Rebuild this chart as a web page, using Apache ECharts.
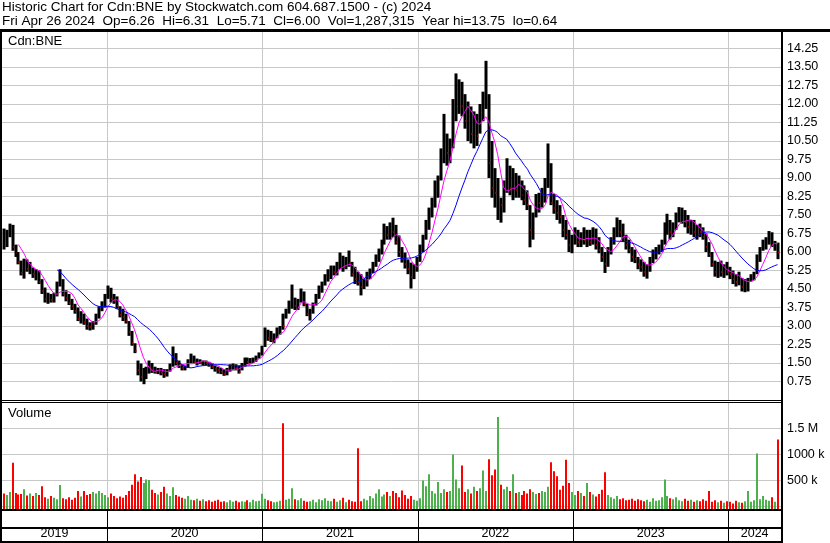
<!DOCTYPE html>
<html>
<head>
<meta charset="utf-8">
<script src="https://cdn.jsdelivr.net/npm/echarts@6/dist/echarts.min.js"></script>
<style>
html, body { margin: 0; padding: 0; background: #fff; }
#chart { width: 830px; height: 543px; }
</style>
</head>
<body>
<div id="chart"></div>
<script>
// weekly bars, the last one is the week ending Fri Apr 26 2024
const lastDay = Date.UTC(2024, 3, 26);

const high = [
  6.95, 6.9, 7.15, 7.1, 6.3, 6.0, 5.65, 5.73, 5.7, 5.6,
  5.37, 5.3, 5.25, 4.9, 4.56, 4.35, 4.3, 4.35, 4.8, 5.3,
  4.9, 4.45, 4.3, 4.1, 3.9, 3.75, 3.6, 3.5, 3.3, 3.15,
  3.2, 3.5, 3.8, 4.0, 4.3, 4.64, 4.55, 4.3, 4.2, 3.8,
  3.7, 3.5, 3.2, 2.8, 2.3, 1.6, 1.48, 1.3, 1.35, 1.6,
  1.5, 1.35, 1.3, 1.3, 1.25, 1.25, 1.48, 2.17, 1.9, 1.6,
  1.45, 1.4, 1.65, 1.88, 1.8, 1.68, 1.65, 1.6, 1.6, 1.55,
  1.5, 1.4, 1.35, 1.3, 1.25, 1.3, 1.45, 1.48, 1.45, 1.4,
  1.5, 1.72, 1.72, 1.7, 1.72, 1.8, 1.93, 2.2, 2.94, 2.85,
  2.8, 2.7, 2.94, 3.0, 3.5, 3.7, 4.03, 4.68, 4.15, 4.1,
  4.52, 4.4, 3.9, 3.7, 3.95, 4.3, 4.64, 4.8, 5.1, 5.3,
  5.45, 5.45, 5.6, 5.98, 5.85, 5.8, 6.06, 5.6, 5.4, 5.2,
  5.1, 4.9, 5.2, 5.33, 5.6, 5.9, 6.14, 6.5, 7.15, 7.05,
  7.2, 7.39, 7.1, 6.67, 6.2, 5.98, 5.7, 5.57, 5.5, 5.8,
  6.3, 6.7, 7.3, 7.8, 8.2, 8.9, 9.1, 10.2, 11.6, 10.8,
  10.6, 12.2, 13.24, 13.0, 12.9, 12.4, 12.1, 11.9, 11.7, 11.6,
  12.0, 12.5, 13.75, 12.4, 10.5, 9.4, 9.0, 8.2, 8.9, 9.8,
  9.5, 9.4, 9.2, 9.1, 8.9, 8.7, 8.5, 7.9, 7.6, 8.35,
  8.4, 8.6, 9.0, 10.4, 9.6, 8.35, 8.1, 7.9, 7.5, 7.3,
  6.9, 6.7, 7.0, 6.9, 6.8, 7.0, 6.9, 6.9, 7.0, 6.95,
  6.6, 6.2, 6.0, 6.2, 6.6, 7.0, 7.4, 7.3, 7.15, 6.7,
  6.5, 6.2, 6.1, 5.8, 5.7, 5.6, 5.5, 5.8, 6.1, 6.2,
  6.3, 6.5, 7.2, 7.55, 7.3, 7.2, 7.6, 7.82, 7.8, 7.7,
  7.5, 7.3, 7.3, 7.1, 7.15, 7.0, 6.75, 6.4, 6.0, 5.65,
  5.6, 5.65, 5.5, 5.6, 5.4, 5.25, 5.1, 5.2, 4.95, 4.9,
  4.95, 5.1, 5.2, 5.9, 6.2, 6.5, 6.6, 6.85, 6.8, 6.45, 6.38
];
const low = [
  6.1, 6.2, 6.6, 6.05, 5.8, 5.5, 5.05, 4.92, 5.2, 5.1,
  4.95, 4.85, 4.7, 4.3, 3.95, 3.9, 3.95, 3.95, 4.2, 4.6,
  4.2, 4.0, 3.85, 3.65, 3.5, 3.2, 3.1, 3.05, 2.85, 2.82,
  2.85, 3.05, 3.3, 3.6, 3.75, 4.1, 3.95, 3.9, 3.7, 3.35,
  3.2, 3.1, 2.6, 2.2, 1.9, 1.0, 0.75, 0.64, 0.85, 1.07,
  1.1, 1.07, 1.05, 1.0, 0.9, 0.95, 1.15, 1.35, 1.4, 1.3,
  1.2, 1.2, 1.3, 1.5, 1.5, 1.4, 1.45, 1.4, 1.42, 1.35,
  1.25, 1.15, 1.07, 1.05, 0.98, 1.0, 1.15, 1.2, 1.2, 1.07,
  1.2, 1.35, 1.45, 1.48, 1.5, 1.55, 1.68, 1.8, 2.15, 2.4,
  2.35, 2.3, 2.5, 2.65, 2.85, 3.3, 3.5, 3.7, 3.65, 3.65,
  3.95, 3.8, 3.4, 3.22, 3.5, 3.83, 4.1, 4.35, 4.64, 4.8,
  4.9, 5.05, 5.05, 5.3, 5.2, 5.3, 5.4, 5.0, 4.7, 4.64,
  4.24, 4.5, 4.6, 4.9, 5.15, 5.4, 5.6, 5.9, 6.3, 6.5,
  6.5, 6.6, 6.3, 5.8, 5.57, 5.33, 5.1, 4.52, 4.9, 5.2,
  5.6, 6.0, 6.5, 6.9, 7.4, 7.8, 8.2, 8.9, 9.6, 9.5,
  9.6, 10.2, 11.3, 11.6, 11.5, 11.0, 10.5, 10.4, 10.2, 10.3,
  10.8, 11.3, 11.8, 9.0, 8.2, 7.8, 7.3, 7.19, 7.6, 8.4,
  8.3, 8.1, 8.2, 8.2, 8.1, 7.9, 7.7, 6.19, 6.5, 7.4,
  7.6, 7.8, 8.0, 8.6, 7.9, 7.55, 7.3, 7.15, 6.6, 6.5,
  6.0, 5.95, 6.3, 6.2, 6.2, 6.3, 6.2, 6.25, 6.3, 6.1,
  5.95, 5.6, 5.15, 5.4, 5.9, 6.3, 6.6, 6.6, 6.4, 6.1,
  5.95, 5.6, 5.55, 5.3, 5.2, 5.0, 4.92, 5.2, 5.55, 5.7,
  5.9, 6.0, 6.3, 6.7, 6.5, 6.6, 6.9, 7.2, 7.15, 7.0,
  6.75, 6.7, 6.6, 6.5, 6.6, 6.5, 6.0, 5.8, 5.4, 5.0,
  4.95, 5.0, 4.95, 5.05, 4.9, 4.7, 4.6, 4.65, 4.4, 4.37,
  4.4, 4.8, 4.85, 5.1, 5.6, 6.05, 6.1, 6.3, 6.2, 6.05, 5.71
];
const close = [
  6.3, 6.75, 7.0, 6.2, 5.95, 5.6, 5.15, 5.55, 5.3, 5.45,
  5.1, 5.2, 4.8, 4.4, 4.1, 4.2, 4.05, 4.3, 4.7, 4.9,
  4.3, 4.15, 3.95, 3.8, 3.6, 3.3, 3.45, 3.15, 3.0, 2.95,
  3.1, 3.4, 3.7, 3.85, 4.2, 4.4, 4.1, 4.05, 3.8, 3.45,
  3.35, 3.2, 2.75, 2.3, 2.0, 1.2, 0.95, 1.1, 1.25, 1.35,
  1.2, 1.15, 1.2, 1.1, 1.05, 1.2, 1.4, 1.8, 1.5, 1.4,
  1.3, 1.3, 1.6, 1.7, 1.55, 1.6, 1.5, 1.55, 1.5, 1.45,
  1.35, 1.25, 1.2, 1.15, 1.05, 1.25, 1.35, 1.4, 1.3, 1.15,
  1.45, 1.65, 1.55, 1.6, 1.65, 1.75, 1.85, 2.15, 2.7, 2.5,
  2.45, 2.6, 2.8, 3.1, 3.0, 3.6, 3.9, 4.0, 3.8, 4.0,
  4.3, 3.9, 3.5, 3.6, 3.85, 4.2, 4.45, 4.7, 5.0, 5.15,
  5.3, 5.2, 5.5, 5.7, 5.4, 5.6, 5.55, 5.1, 4.9, 4.8,
  4.6, 4.75, 5.05, 5.2, 5.5, 5.8, 6.0, 6.4, 6.9, 6.7,
  7.0, 6.8, 6.4, 6.0, 5.7, 5.5, 5.3, 5.0, 5.4, 5.6,
  6.1, 6.55, 7.1, 7.5, 8.0, 8.6, 9.0, 9.9, 10.4, 10.0,
  10.3, 11.8, 12.3, 12.6, 11.9, 11.3, 11.5, 10.8, 11.2, 10.7,
  11.6, 12.2, 12.4, 9.6, 8.6, 8.4, 8.5, 7.9, 8.6, 9.0,
  8.6, 8.9, 8.5, 8.8, 8.3, 8.1, 7.9, 6.9, 7.4, 8.1,
  8.0, 8.3, 8.8, 9.3, 8.0, 7.8, 7.6, 7.4, 6.9, 6.7,
  6.3, 6.5, 6.6, 6.4, 6.7, 6.5, 6.6, 6.4, 6.8, 6.3,
  6.1, 5.8, 5.5, 6.0, 6.4, 6.8, 7.0, 6.8, 6.6, 6.3,
  6.1, 5.8, 5.7, 5.5, 5.4, 5.2, 5.3, 5.7, 5.9, 6.0,
  6.2, 6.3, 7.0, 7.1, 6.8, 7.0, 7.4, 7.5, 7.6, 7.2,
  7.0, 7.1, 6.8, 6.9, 6.8, 6.6, 6.2, 5.9, 5.5, 5.2,
  5.3, 5.2, 5.3, 5.2, 5.1, 4.9, 4.8, 5.0, 4.6, 4.7,
  4.8, 4.95, 5.1, 5.7, 6.1, 6.3, 6.4, 6.7, 6.3, 6.3, 6.0
];
// volume, thousands of shares
const volume = [
  250, 220, 280, 840, 260, 230, 240, 330, 210, 250,
  200, 260, 220, 390, 180, 150, 200, 170, 140, 415,
  160, 140, 180, 130, 170, 300, 190, 300, 220, 240,
  280, 250, 300, 260, 220, 180, 250, 200, 160, 190,
  170, 220, 300, 420, 620, 480, 565, 450, 520, 510,
  320, 260, 230, 280, 380, 250, 200, 370, 220, 190,
  170, 150, 200, 130, 120, 150, 110, 140, 100, 120,
  90, 110, 130, 90, 100, 80, 120, 90, 110, 80,
  100, 90, 120, 80, 130, 100, 110, 245, 150, 120,
  100, 80, 90, 110, 1600, 130, 150, 350, 140, 120,
  160, 110, 90, 100, 130, 80, 140, 120, 160, 110,
  100, 150, 90, 120, 170, 80, 130, 100, 90, 1120,
  100, 150, 120, 200, 160, 250, 330, 190, 230, 280,
  200, 300, 260, 180, 310, 220, 150, 200, 130, 110,
  160, 500, 390, 620, 300, 250, 470, 260, 330, 280,
  300, 1000, 520, 350, 790, 280, 330, 250, 380, 300,
  350, 690, 300, 910, 600, 710, 1720, 420, 330, 380,
  300, 620, 260, 280, 220, 300, 250, 330, 280, 240,
  260, 300, 280, 380, 850, 680, 580, 320, 400, 900,
  450, 280, 220, 300, 260, 200, 450, 280, 230, 190,
  240, 320, 660, 220, 180, 150, 200, 140, 160, 120,
  130, 150, 110, 140, 120, 100, 130, 90, 160, 110,
  120, 180, 520, 200, 160, 140, 180, 120, 100, 150,
  110, 130, 90, 120, 100, 140, 110, 300, 90, 120,
  80, 110, 70, 100, 90, 60, 110, 80, 70, 100,
  300, 90, 120, 1020, 140, 200, 130, 110, 180, 90, 1290
];

const years = [2019, 2020, 2021, 2022, 2023, 2024];
const volTickLabels = ['', '500 k', '1000 k', '1.5 M', ''];
const header1 = 'Historic Chart for Cdn:BNE by Stockwatch.com 604.687.1500 - (c) 2024';
const header2 = 'Fri Apr 26 2024  Op=6.26  Hi=6.31  Lo=5.71  Cl=6.00  Vol=1,287,315  Year hi=13.75  lo=0.64';

const xMin = 2019.324, xMax = 2024.339;
const FONT = 'Liberation Sans, Arial, sans-serif';
const RED = '#ff0000', GREEN = '#4cb04c', GRID = '#c8c8c8';

function fracYear (t) {
    const y = new Date(t).getUTCFullYear()
    const a = Date.UTC(y, 0, 1), b = Date.UTC(y + 1, 0, 1)
    return y + (t - a) / (b - a)
}
const n = close.length
const xs = close.map((_, i) => fracYear(lastDay - (n - 1 - i) * 7 * 864e5))

function sma (p) {
    const out = []
    for (let i = p - 1; i < n; i++) {
        let s = 0
        for (let k = i - p + 1; k <= i; k++) s += close[k]
        out.push([xs[i], s / p])
    }
    return out
}

// [x, close, high, low, down-week flag]
const bars = close.map((c, i) => [xs[i], c, high[i], low[i], i > 0 && c < close[i - 1] ? 1 : 0])
const vols = volume.map((v, i) => [xs[i], v * 1000, i > 0 && close[i] >= close[i - 1] ? 1 : 0])
const yearBounds = years.slice(1)
const yearSpans = years.map(y => [Math.max(y, xMin), Math.min(y + 1, xMax), String(y)])

const xAxisBase = { type: 'value', min: xMin, max: xMax, show: false }

const yearLineSeries = (gi, color) => ({
    type: 'custom',
    xAxisIndex: gi, yAxisIndex: gi,
    z: 1, silent: true,
    data: yearBounds,
    renderItem (params, api) {
        const cs = params.coordSys
        const x = Math.round(api.coord([api.value(0), 0])[0]) + 0.5
        return { type: 'line', shape: { x1: x, y1: cs.y, x2: x, y2: cs.y + cs.height }, style: { stroke: color, lineWidth: 1 } }
    }
})

const option = {
    animation: false,
    backgroundColor: '#fff',
    grid: [
        { left: 2, right: 49, top: 30, height: 370 },
        { left: 2, right: 49, top: 402.5, height: 104 },
        { left: 2, right: 49, top: 511, height: 30 }
    ],
    xAxis: [
        Object.assign({ gridIndex: 0 }, xAxisBase),
        Object.assign({ gridIndex: 1 }, xAxisBase),
        Object.assign({ gridIndex: 2 }, xAxisBase)
    ],
    yAxis: [
        {
            gridIndex: 0, type: 'value', position: 'right', min: 0, max: 15, interval: 0.75,
            axisLine: { show: false }, axisTick: { show: false },
            splitLine: { lineStyle: { color: GRID, width: 1 } },
            axisLabel: {
                margin: 6, color: '#000', fontSize: 12.5, fontFamily: FONT,
                formatter: v => (v <= 0 || v >= 15) ? '' : v.toFixed(2)
            }
        },
        {
            gridIndex: 1, type: 'value', position: 'right', min: 0, max: 2000000, interval: 500000,
            axisLine: { show: false }, axisTick: { show: false },
            splitLine: { lineStyle: { color: GRID, width: 1 } },
            axisLabel: {
                margin: 6, color: '#000', fontSize: 12.5, fontFamily: FONT,
                formatter: v => volTickLabels[Math.round(v / 500000)] || ''
            }
        },
        { gridIndex: 2, type: 'value', min: 0, max: 1, show: false }
    ],
    series: [
        yearLineSeries(0, GRID),
        yearLineSeries(1, GRID),
        {
            // year separators and labels under the volume panel
            type: 'custom',
            xAxisIndex: 2, yAxisIndex: 2, silent: true,
            data: yearSpans,
            renderItem (params, api) {
                const cs = params.coordSys
                const x0 = api.coord([api.value(0), 0])[0]
                const x1 = api.coord([api.value(1), 0])[0]
                const children = [{
                    type: 'text',
                    style: {
                        text: yearSpans[params.dataIndex][2], x: (x0 + x1) / 2, y: cs.y + cs.height - 7,
                        align: 'center', verticalAlign: 'middle', fill: '#000', font: '12.5px ' + FONT
                    }
                }]
                if (api.value(0) > xMin) {
                    const x = Math.round(x0) + 0.5
                    children.push({ type: 'line', shape: { x1: x, y1: cs.y, x2: x, y2: cs.y + cs.height }, style: { stroke: '#000', lineWidth: 1 } })
                }
                return { type: 'group', children }
            }
        },
        {
            name: 'price',
            type: 'custom',
            xAxisIndex: 0, yAxisIndex: 0, z: 3,
            data: bars,
            renderItem (params, api) {
                const hi = api.coord([api.value(0), api.value(2)])
                const lo = api.coord([api.value(0), api.value(3)])
                const cl = api.coord([api.value(0), api.value(1)])
                const x = Math.round(hi[0])
                const children = [{
                    type: 'rect',
                    shape: { x: x - 1.5, y: hi[1], width: 3, height: Math.max(1, lo[1] - hi[1]) },
                    style: { fill: '#000' }
                }]
                // red close tick on down weeks
                if (api.value(4)) {
                    children.push({ type: 'rect', shape: { x: x + 0.5, y: Math.round(cl[1]) - 1, width: 1, height: 2 }, style: { fill: RED } })
                }
                return { type: 'group', children }
            }
        },
        {
            name: 'ma short',
            type: 'line', xAxisIndex: 0, yAxisIndex: 0, z: 4,
            data: sma(6), showSymbol: false, symbol: 'none',
            lineStyle: { color: '#ff00ff', width: 1 }
        },
        {
            name: 'ma long',
            type: 'line', xAxisIndex: 0, yAxisIndex: 0, z: 4,
            data: sma(19), showSymbol: false, symbol: 'none',
            lineStyle: { color: '#0000ff', width: 1 }
        },
        {
            name: 'volume',
            type: 'custom',
            xAxisIndex: 1, yAxisIndex: 1, z: 3,
            data: vols,
            renderItem (params, api) {
                const cs = params.coordSys
                const p = api.coord([api.value(0), api.value(1)])
                const base = cs.y + cs.height + 3
                const x = Math.round(p[0])
                return {
                    type: 'rect',
                    shape: { x: x - 1, y: p[1], width: 2, height: base - p[1] },
                    style: { fill: api.value(2) ? GREEN : RED }
                }
            }
        }
    ],
    graphic: [
        { type: 'text', x: 2, y: 7, style: { text: header1, font: '13.5px ' + FONT, fill: '#000', verticalAlign: 'middle' } },
        { type: 'text', x: 2, y: 21, style: { text: header2, font: '13.5px ' + FONT, fill: '#000', verticalAlign: 'middle' } },
        { type: 'text', x: 8, y: 41.5, z: 10, style: { text: 'Cdn:BNE', font: '13px ' + FONT, fill: '#000', verticalAlign: 'middle' } },
        { type: 'text', x: 8, y: 413, z: 10, style: { text: 'Volume', font: '13px ' + FONT, fill: '#000', verticalAlign: 'middle' } },
        // frame
        { type: 'rect', z: 10, shape: { x: 0, y: 29, width: 830, height: 3 }, style: { fill: '#000' } },
        { type: 'rect', z: 10, shape: { x: 0, y: 29, width: 2, height: 514 }, style: { fill: '#000' } },
        { type: 'rect', z: 10, shape: { x: 781, y: 29, width: 2, height: 514 }, style: { fill: '#000' } },
        { type: 'rect', z: 10, shape: { x: 0, y: 400, width: 783, height: 1 }, style: { fill: '#000' } },
        { type: 'rect', z: 10, shape: { x: 0, y: 402, width: 783, height: 1 }, style: { fill: '#000' } },
        { type: 'rect', z: 10, shape: { x: 0, y: 509, width: 783, height: 2 }, style: { fill: '#000' } },
        { type: 'rect', z: 10, shape: { x: 0, y: 527, width: 783, height: 2 }, style: { fill: '#000' } },
        { type: 'rect', z: 10, shape: { x: 0, y: 541, width: 783, height: 2 }, style: { fill: '#000' } }
    ]
}

const chart = echarts.init(document.getElementById('chart'))
chart.setOption(option)
window.addEventListener('resize', () => chart.resize())
</script>
</body>
</html>
